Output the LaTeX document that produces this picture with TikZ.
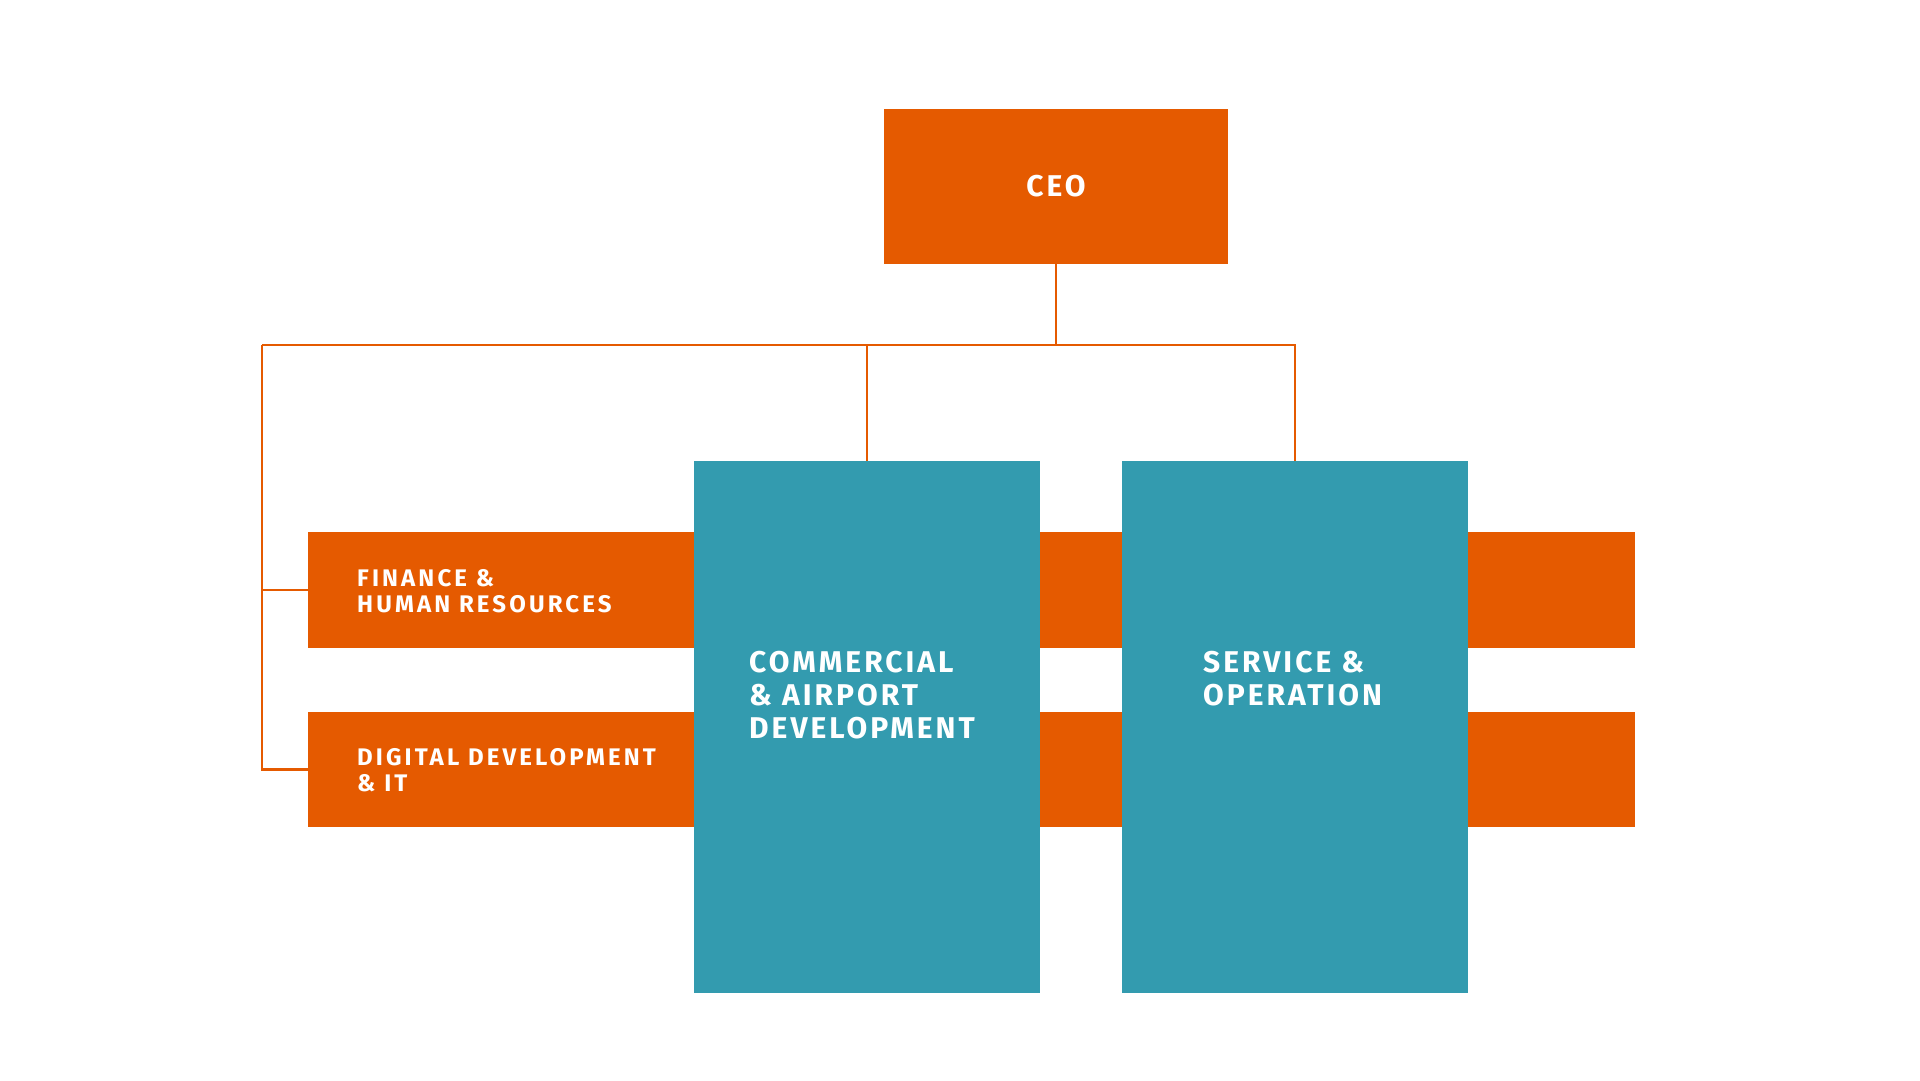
\documentclass[tikz,border=0pt]{standalone}
\usepackage{fontspec}
\newfontfamily\unitfont{Fira Sans}[LetterSpace=13]
\newfontfamily\divfont{Fira Sans}[LetterSpace=10]
\usepackage{tikz}
\definecolor{orgorange}{RGB}{229,90,0}
\definecolor{orgteal}{RGB}{51,155,175}
\tikzset{unit/.style={rectangle, fill=orgorange, inner sep=0pt},
         division/.style={rectangle, fill=orgteal, inner sep=0pt, minimum width=346pt, minimum height=532pt},
         small/.style={text=white, inner sep=0pt, align=left, anchor=north west, font=\unitfont\bfseries\fontsize{24}{26}\selectfont},
         big/.style={text=white, inner sep=0pt, align=left, anchor=north west, font=\divfont\bfseries\fontsize{30}{33}\selectfont},
         link/.style={draw=orgorange, line width=2.5pt}}

\begin{document}
\begin{tikzpicture}[x=1pt, y=-1pt]
            \useasboundingbox (0,0) rectangle (1920,1080);
            \node[unit, minimum width=344pt, minimum height=155pt, text=white, font=\divfont\bfseries\fontsize{30}{33}\selectfont] (ceo) at (1056,186.5) {CEO};
            \node[unit, minimum width=1327pt, minimum height=116pt] (finance) at (971.5,590) {};
            \node[unit, minimum width=1327pt, minimum height=115pt] (digital) at (971.5,769.5) {};
            \node[division] (commercial) at (867,727) {};
            \node[division] (service) at (1295,727) {};

            \node[small] (financetext) at (357,569) {FINANCE \&\\HUMAN RESOURCES};
            \node[small] (digitaltext) at (357,748) {DIGITAL DEVELOPMENT\\\& IT};
            \node[big] (commercialtext) at (749,651) {COMMERCIAL\\\& AIRPORT\\DEVELOPMENT};
            \node[big] (servicetext) at (1203,651) {SERVICE \&\\OPERATION};

            \coordinate (hub) at (ceo.south |- 0,345);
            \coordinate (left) at (262,345);

            \draw[link] (ceo.south) -- (hub);
            \draw[link] (left) -- (service.north |- hub) -- (service.north);
            \draw[link] (commercial.north |- hub) -- (commercial.north);
            \draw[link] (left) |- (digital.west);
            \draw[link] (left |- finance.west) -- (finance.west);
        \end{tikzpicture}
\end{document}
